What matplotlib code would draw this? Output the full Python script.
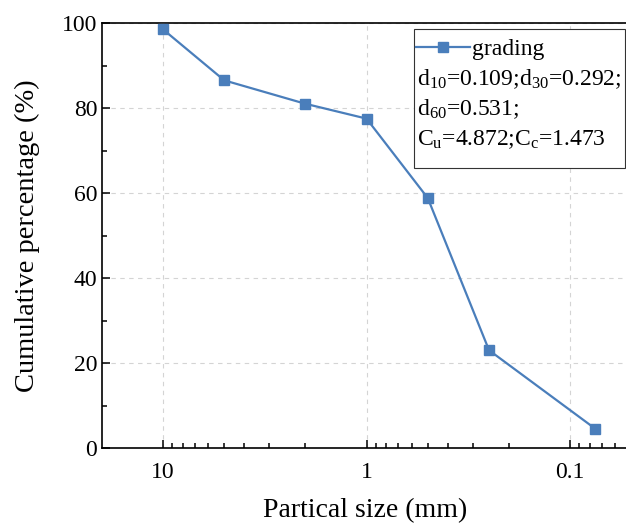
import matplotlib
matplotlib.use('Agg')
import matplotlib.pyplot as plt
from matplotlib.lines import Line2D
from matplotlib.patches import Rectangle
from matplotlib.ticker import FixedLocator, LogLocator, NullFormatter, MultipleLocator

# grading curve data
sizes = [10, 5, 2, 1, 0.5, 0.25, 0.075]
passing = [98.5, 86.5, 81.0, 77.5, 58.8, 23.0, 4.5]
x_ticks = [10, 1, 0.1]
x_ticklabels = ['10', '1', '0.1']
legend_lines = ['d$_{10}$=0.109;d$_{30}$=0.292;',
                'd$_{60}$=0.531;',
                'C$_{\\mathrm{u}}$=4.872;C$_{\\mathrm{c}}$=1.473']

plt.rcParams['font.family'] = ['Liberation Serif', 'DejaVu Serif']
plt.rcParams['mathtext.fontset'] = 'custom'
plt.rcParams['mathtext.rm'] = 'Liberation Serif'
plt.rcParams['mathtext.it'] = 'Liberation Serif:italic'

W, H = 626, 524
color = '#4a7ebb'

fig = plt.figure(figsize=(W / 100, H / 100), dpi=100)
ax = fig.add_axes([102 / W, 1 - 448 / H, (640 - 102) / W, (448 - 23) / H])

ax.plot(sizes, passing, color=color, lw=1.6, marker='s', ms=6.8, zorder=3)

ax.set_xscale('log')
ax.set_xlim(19.95, 0.0453)
ax.set_ylim(0, 100)
ax.xaxis.set_major_locator(FixedLocator(x_ticks))
ax.set_xticklabels(x_ticklabels)
ax.xaxis.set_minor_locator(LogLocator(base=10, subs=range(2, 10)))
ax.xaxis.set_minor_formatter(NullFormatter())
ax.yaxis.set_major_locator(MultipleLocator(20))
ax.yaxis.set_minor_locator(MultipleLocator(10))

ax.tick_params(which='both', direction='in', labelsize=17, width=1.1)
ax.tick_params(which='major', length=6)
ax.tick_params(which='minor', length=3.5)
ax.tick_params(axis='x', pad=10)
for s in ax.spines.values():
    s.set_linewidth(1.2)

ax.grid(True, which='major', ls=(0, (4, 4)), color='#d4d4d4', lw=0.8)

ax.set_xlabel('Partical size (mm)', fontsize=20)
ax.xaxis.set_label_coords(0.489, -0.119)
ax.set_ylabel('Cumulative percentage (%)', fontsize=20.5, labelpad=16)

# legend box drawn by hand
def fx(x):
    return x / W

def fy(y):
    return 1 - y / H

fig.add_artist(Rectangle((fx(414), fy(168)), fx(625 - 414), (168 - 29) / H,
                         transform=fig.transFigure, facecolor='white',
                         edgecolor='#333333', lw=0.8, zorder=5))
fig.add_artist(Line2D([fx(416), fx(443), fx(470)], [fy(47)] * 3,
                      transform=fig.transFigure, color=color, lw=1.6,
                      marker='s', ms=6.8, markevery=[1], zorder=6))
fig.text(fx(472), fy(55), 'grading', fontsize=17, va='baseline', zorder=6)
for i, t in enumerate(legend_lines):
    fig.text(fx(417), fy(85 + 30 * i), t, fontsize=17, va='baseline', zorder=6)

fig.savefig('out.png', dpi=100)
